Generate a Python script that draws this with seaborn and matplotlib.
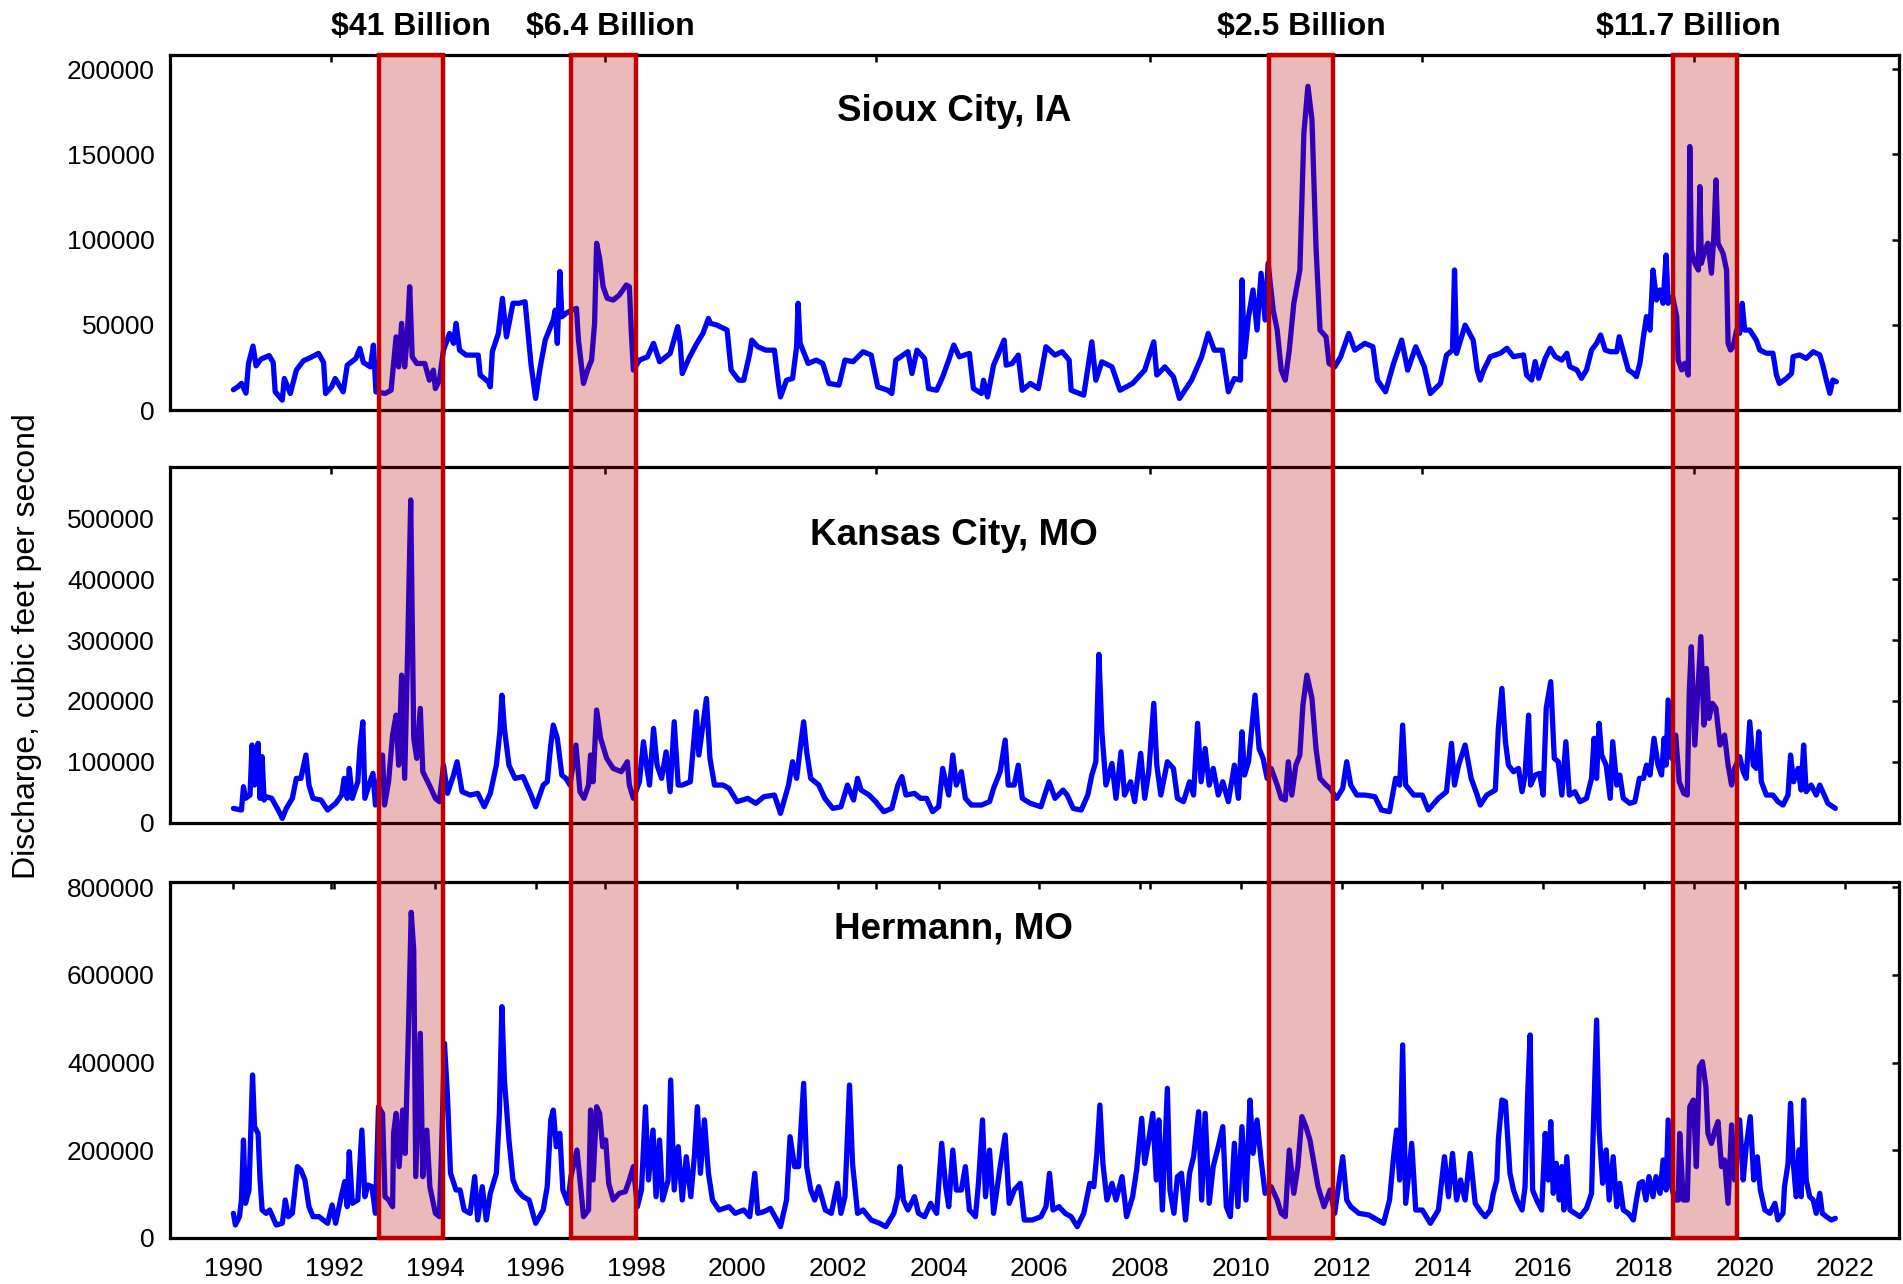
import matplotlib
matplotlib.use("Agg")
import matplotlib.pyplot as plt
import matplotlib.transforms as mtransforms
from matplotlib.patches import Rectangle
import seaborn as sns
import pandas as pd

# ---------------- data ----------------
sioux_year = [
    1990.00, 1990.10, 1990.16, 1990.25, 1990.30, 1990.39, 1990.45, 1990.55, 1990.71, 1990.79,
    1990.83, 1990.97, 1991.01, 1991.13, 1991.25, 1991.39, 1991.54, 1991.69, 1991.79, 1991.83,
    1991.95, 1992.02, 1992.18, 1992.26, 1992.43, 1992.51, 1992.58, 1992.72, 1992.78, 1992.83,
    1993.01, 1993.13, 1993.23, 1993.28, 1993.34, 1993.40, 1993.45, 1993.50, 1993.55, 1993.64,
    1993.80, 1993.89, 1993.97, 1994.01, 1994.09, 1994.17, 1994.29, 1994.37, 1994.42, 1994.49,
    1994.62, 1994.86, 1994.90, 1995.06, 1995.10, 1995.14, 1995.26, 1995.34, 1995.42, 1995.55,
    1995.67, 1995.79, 1995.87, 1995.91, 1996.00, 1996.08, 1996.19, 1996.27, 1996.35, 1996.39,
    1996.43, 1996.48, 1996.52, 1996.60, 1996.72, 1996.81, 1996.85, 1996.95, 1997.03, 1997.11,
    1997.17, 1997.21, 1997.27, 1997.34, 1997.42, 1997.54, 1997.66, 1997.80, 1997.86, 1997.90,
    1997.94, 1998.06, 1998.22, 1998.34, 1998.46, 1998.67, 1998.82, 1998.87, 1998.91, 1999.04,
    1999.20, 1999.32, 1999.43, 1999.47, 1999.60, 1999.80, 1999.88, 2000.03, 2000.13, 2000.25,
    2000.29, 2000.41, 2000.57, 2000.74, 2000.82, 2000.86, 2000.98, 2001.10, 2001.18, 2001.21,
    2001.25, 2001.41, 2001.57, 2001.70, 2001.82, 2002.02, 2002.14, 2002.30, 2002.50, 2002.66,
    2002.79, 2002.99, 2003.07, 2003.15, 2003.39, 2003.47, 2003.57, 2003.72, 2003.80, 2003.96,
    2004.08, 2004.20, 2004.30, 2004.41, 2004.61, 2004.69, 2004.85, 2004.89, 2004.97, 2005.09,
    2005.30, 2005.34, 2005.46, 2005.58, 2005.66, 2005.82, 2005.98, 2006.13, 2006.31, 2006.45,
    2006.59, 2006.63, 2006.88, 2007.04, 2007.12, 2007.24, 2007.44, 2007.60, 2007.85, 2008.09,
    2008.27, 2008.33, 2008.49, 2008.66, 2008.78, 2009.02, 2009.22, 2009.35, 2009.47, 2009.63,
    2009.75, 2009.87, 2009.99, 2010.02, 2010.07, 2010.15, 2010.24, 2010.32, 2010.40, 2010.48,
    2010.54, 2010.64, 2010.72, 2010.80, 2010.88, 2010.96, 2011.05, 2011.17, 2011.25, 2011.33,
    2011.41, 2011.49, 2011.57, 2011.69, 2011.75, 2011.86, 2011.98, 2012.14, 2012.26, 2012.46,
    2012.62, 2012.71, 2012.87, 2013.03, 2013.19, 2013.31, 2013.47, 2013.64, 2013.76, 2013.96,
    2014.08, 2014.20, 2014.24, 2014.28, 2014.45, 2014.61, 2014.69, 2014.75, 2014.82, 2014.95,
    2015.15, 2015.28, 2015.41, 2015.61, 2015.67, 2015.77, 2015.84, 2015.91, 2016.04, 2016.14,
    2016.24, 2016.37, 2016.47, 2016.53, 2016.67, 2016.76, 2016.86, 2016.96, 2017.06, 2017.14,
    2017.23, 2017.33, 2017.46, 2017.51, 2017.59, 2017.69, 2017.79, 2017.85, 2017.92, 2017.99,
    2018.05, 2018.12, 2018.18, 2018.25, 2018.32, 2018.38, 2018.44, 2018.48, 2018.57, 2018.65,
    2018.68, 2018.75, 2018.81, 2018.88, 2018.91, 2018.94, 2019.01, 2019.08, 2019.11, 2019.14,
    2019.21, 2019.27, 2019.34, 2019.39, 2019.43, 2019.47, 2019.57, 2019.64, 2019.67, 2019.72,
    2019.77, 2019.84, 2019.90, 2019.95, 2020.00, 2020.10, 2020.23, 2020.30, 2020.43, 2020.56,
    2020.63, 2020.69, 2020.83, 2020.93, 2020.96, 2021.09, 2021.22, 2021.36, 2021.49, 2021.55,
    2021.62, 2021.69, 2021.75, 2021.82]
sioux_cfs = [
    12000, 14000, 15700, 10000, 27400, 37600, 26000, 30000, 32000, 28000,
    10800, 5900, 18600, 9800, 23500, 29000, 31000, 33300, 28000, 9800,
    13700, 18600, 10800, 26400, 30300, 36200, 28000, 25400, 38200, 10800,
    9800, 11700, 43000, 25400, 50900, 25400, 43000, 72400, 31300, 27400,
    27400, 17600, 23500, 12700, 17600, 35200, 45000, 39200, 50900, 35200,
    32300, 32300, 20600, 16600, 13700, 34300, 45000, 65600, 43000, 62700,
    62700, 63600, 39200, 26400, 6900, 23500, 41100, 47000, 52900, 58700,
    39200, 81300, 54800, 56800, 58700, 59700, 41100, 15700, 23500, 29400,
    50900, 97900, 89100, 72400, 65600, 64600, 67500, 73400, 72400, 45000,
    23500, 29400, 31300, 39200, 28400, 33300, 49000, 39200, 21500, 30300,
    39200, 45000, 53800, 50900, 49900, 47000, 23500, 17600, 17600, 33300,
    41100, 37200, 35200, 35200, 15700, 7800, 17600, 18600, 37200, 62700,
    39200, 27400, 29400, 27400, 15700, 14700, 29400, 28400, 34300, 32300,
    13700, 11700, 9800, 29400, 34300, 21500, 35200, 30300, 12700, 11700,
    19600, 29400, 38200, 31300, 33300, 12700, 9800, 17600, 7800, 26400,
    41100, 26400, 27400, 32300, 11700, 15700, 12700, 37200, 32300, 34300,
    29400, 11700, 8800, 40100, 17600, 28400, 25400, 11700, 15700, 23500,
    40100, 20600, 25400, 19600, 6900, 17600, 31300, 45000, 35200, 35200,
    10800, 18600, 17600, 76400, 31300, 54800, 70500, 47000, 80300, 52900,
    86200, 58700, 47000, 23500, 17600, 35200, 62700, 82200, 162500, 189900,
    170300, 95900, 47000, 43000, 27400, 25400, 31300, 45000, 35200, 39200,
    37200, 17600, 10800, 27400, 41100, 23500, 37200, 25400, 9800, 15700,
    32300, 35200, 82200, 33300, 49900, 41100, 23500, 17700, 23600, 31400,
    33400, 36300, 31400, 32400, 20600, 17700, 28500, 18700, 30400, 36300,
    31400, 29400, 33400, 25500, 23600, 18700, 23600, 35300, 39200, 44100,
    35300, 34300, 34300, 43100, 34300, 23600, 21600, 19700, 27500, 43100,
    54900, 47000, 82200, 64600, 70500, 62700, 91000, 62700, 66600, 54900,
    29400, 23600, 27500, 20600, 154600, 94000, 86100, 82200, 131100, 86100,
    94000, 97900, 80300, 103700, 135000, 97900, 92000, 82200, 39200, 35300,
    37300, 47000, 45100, 62700, 47000, 47000, 41100, 35300, 33400, 33400,
    20600, 15700, 18700, 21600, 31400, 32400, 30400, 34300, 32400, 26500,
    17700, 9900, 17700, 16700]

kc_year = [
    1990.00, 1990.16, 1990.20, 1990.24, 1990.33, 1990.37, 1990.42, 1990.49, 1990.53, 1990.57,
    1990.61, 1990.65, 1990.76, 1990.89, 1990.97, 1991.05, 1991.17, 1991.25, 1991.34, 1991.44,
    1991.50, 1991.58, 1991.74, 1991.87, 1992.03, 1992.15, 1992.20, 1992.26, 1992.30, 1992.36,
    1992.47, 1992.51, 1992.57, 1992.61, 1992.71, 1992.77, 1992.82, 1992.96, 1993.00, 1993.08,
    1993.16, 1993.23, 1993.28, 1993.34, 1993.40, 1993.46, 1993.52, 1993.58, 1993.64, 1993.71,
    1993.76, 1993.89, 1994.01, 1994.09, 1994.17, 1994.25, 1994.37, 1994.44, 1994.54, 1994.70,
    1994.85, 1994.98, 1995.10, 1995.22, 1995.29, 1995.33, 1995.38, 1995.47, 1995.59, 1995.75,
    1995.91, 1996.00, 1996.15, 1996.23, 1996.30, 1996.35, 1996.43, 1996.52, 1996.60, 1996.68,
    1996.80, 1996.88, 1996.96, 1997.05, 1997.09, 1997.14, 1997.21, 1997.29, 1997.41, 1997.54,
    1997.70, 1997.82, 1997.86, 1997.94, 1998.06, 1998.14, 1998.20, 1998.26, 1998.34, 1998.41,
    1998.50, 1998.59, 1998.67, 1998.75, 1998.83, 1998.91, 1999.07, 1999.19, 1999.24, 1999.39,
    1999.46, 1999.55, 1999.72, 1999.84, 2000.00, 2000.21, 2000.37, 2000.53, 2000.74, 2000.86,
    2001.02, 2001.10, 2001.18, 2001.26, 2001.32, 2001.38, 2001.46, 2001.62, 2001.74, 2001.90,
    2002.06, 2002.19, 2002.31, 2002.39, 2002.46, 2002.62, 2002.75, 2002.91, 2003.07, 2003.19,
    2003.27, 2003.35, 2003.52, 2003.64, 2003.76, 2003.88, 2004.00, 2004.08, 2004.20, 2004.28,
    2004.35, 2004.45, 2004.53, 2004.65, 2004.85, 2005.01, 2005.09, 2005.22, 2005.32, 2005.38,
    2005.50, 2005.58, 2005.66, 2005.82, 2006.03, 2006.19, 2006.31, 2006.47, 2006.55, 2006.67,
    2006.83, 2006.96, 2007.04, 2007.12, 2007.18, 2007.24, 2007.32, 2007.44, 2007.52, 2007.62,
    2007.69, 2007.81, 2007.89, 2008.01, 2008.09, 2008.17, 2008.27, 2008.33, 2008.41, 2008.54,
    2008.66, 2008.74, 2008.86, 2008.98, 2009.06, 2009.14, 2009.21, 2009.29, 2009.37, 2009.45,
    2009.55, 2009.64, 2009.75, 2009.87, 2009.95, 2010.02, 2010.07, 2010.15, 2010.28, 2010.36,
    2010.44, 2010.52, 2010.60, 2010.72, 2010.80, 2010.88, 2010.94, 2011.01, 2011.09, 2011.17,
    2011.23, 2011.31, 2011.41, 2011.49, 2011.57, 2011.69, 2011.77, 2011.90, 2012.02, 2012.10,
    2012.18, 2012.30, 2012.46, 2012.66, 2012.79, 2012.95, 2013.07, 2013.15, 2013.21, 2013.27,
    2013.43, 2013.60, 2013.72, 2013.92, 2014.08, 2014.18, 2014.24, 2014.32, 2014.45, 2014.57,
    2014.69, 2014.75, 2014.88, 2015.05, 2015.11, 2015.18, 2015.25, 2015.31, 2015.41, 2015.51,
    2015.58, 2015.64, 2015.71, 2015.75, 2015.84, 2015.93, 2016.00, 2016.06, 2016.15, 2016.22,
    2016.30, 2016.37, 2016.45, 2016.52, 2016.63, 2016.73, 2016.86, 2016.96, 2017.01, 2017.06,
    2017.11, 2017.16, 2017.25, 2017.33, 2017.38, 2017.46, 2017.52, 2017.59, 2017.72, 2017.82,
    2017.91, 2017.99, 2018.05, 2018.12, 2018.20, 2018.28, 2018.35, 2018.40, 2018.44, 2018.48,
    2018.55, 2018.63, 2018.70, 2018.79, 2018.86, 2018.90, 2018.94, 2019.01, 2019.08, 2019.13,
    2019.19, 2019.24, 2019.29, 2019.36, 2019.43, 2019.51, 2019.60, 2019.67, 2019.74, 2019.80,
    2019.90, 2019.97, 2020.03, 2020.10, 2020.17, 2020.23, 2020.28, 2020.33, 2020.43, 2020.56,
    2020.66, 2020.76, 2020.86, 2020.91, 2020.97, 2021.06, 2021.12, 2021.17, 2021.22, 2021.32,
    2021.42, 2021.49, 2021.55, 2021.65, 2021.75, 2021.80]
kc_cfs = [
    23700, 21000, 59300, 40200, 45600, 127700, 62000, 130400, 40200, 108600,
    37400, 42900, 40200, 21000, 7300, 23700, 40200, 73000, 73000, 111300,
    62000, 40200, 37400, 21000, 32000, 45600, 73000, 40200, 89300, 40200,
    67400, 122100, 165900, 40200, 67400, 81100, 29200, 111300, 29200, 67400,
    144000, 176800, 94700, 242400, 73000, 286200, 529900, 138700, 105800, 187900,
    83900, 62000, 40200, 34700, 94700, 48400, 78400, 100300, 51100, 45600,
    48400, 26400, 48400, 94700, 149400, 209600, 154900, 94700, 73000, 75800,
    45600, 26400, 62000, 67400, 127700, 160400, 138700, 78400, 73000, 62000,
    127700, 51100, 40200, 62000, 111300, 67400, 185200, 138700, 105800, 89300,
    83900, 100300, 62000, 40200, 67400, 133100, 94700, 62000, 154900, 94700,
    73000, 116500, 51100, 165900, 62000, 62000, 67400, 182400, 111300, 204200,
    105800, 62000, 62000, 56500, 34700, 40200, 32000, 42900, 45600, 15600,
    62000, 100300, 73000, 127700, 165900, 116500, 73000, 62000, 40200, 23700,
    26400, 62000, 37400, 73000, 53800, 45600, 34700, 18300, 23700, 62000,
    75800, 45600, 48400, 40200, 40200, 18300, 26400, 89300, 45600, 111300,
    62000, 83900, 40200, 29200, 29200, 34700, 56500, 83900, 135900, 62000,
    62000, 94700, 40200, 32000, 26400, 67400, 40200, 53800, 45600, 23700,
    21000, 45600, 78400, 100300, 276500, 149400, 62000, 97500, 40200, 116500,
    45600, 67400, 34700, 114100, 40200, 83900, 196100, 94700, 45600, 100300,
    89300, 40200, 34700, 67400, 45600, 163300, 67400, 122100, 62000, 89300,
    45600, 67400, 34700, 94700, 40200, 149400, 78400, 100300, 209600, 122100,
    105800, 73000, 89300, 62000, 40200, 37400, 100300, 45600, 94700, 111300,
    193200, 242400, 204200, 122100, 73000, 62000, 56500, 40200, 56500, 100300,
    62000, 45600, 45600, 42900, 21000, 18300, 73000, 62000, 160400, 62000,
    45600, 45600, 21000, 40200, 51100, 130400, 62000, 94700, 127700, 73000,
    45600, 29200, 45600, 53800, 154900, 220600, 133100, 94700, 83900, 89300,
    51100, 78400, 176800, 62000, 78400, 81100, 45600, 187900, 231700, 105800,
    100300, 45600, 133100, 45600, 51100, 34700, 40200, 73000, 138700, 73000,
    163300, 111300, 94700, 40200, 133100, 62000, 78400, 40200, 32000, 34700,
    73000, 73000, 94700, 78400, 138700, 94700, 78400, 138700, 94700, 201600,
    105800, 144000, 67400, 48400, 45600, 215100, 289000, 127700, 231700, 305600,
    160400, 253500, 171400, 196100, 187900, 127700, 144000, 94700, 62000, 89300,
    108600, 83900, 73000, 165900, 94700, 89300, 149400, 67400, 45600, 45600,
    34700, 29200, 45600, 111300, 67400, 89300, 53800, 127700, 51100, 62000,
    45600, 62000, 51100, 32000, 26400, 23700]

hermann_year = [
    1990.00, 1990.04, 1990.12, 1990.16, 1990.20, 1990.24, 1990.31, 1990.38, 1990.42, 1990.49,
    1990.53, 1990.57, 1990.65, 1990.72, 1990.85, 1990.97, 1991.03, 1991.09, 1991.17, 1991.27,
    1991.34, 1991.42, 1991.50, 1991.58, 1991.70, 1991.87, 1991.96, 1992.03, 1992.14, 1992.21,
    1992.26, 1992.30, 1992.36, 1992.47, 1992.55, 1992.61, 1992.67, 1992.75, 1992.82, 1992.88,
    1992.96, 1993.01, 1993.08, 1993.16, 1993.18, 1993.23, 1993.29, 1993.36, 1993.41, 1993.48,
    1993.53, 1993.58, 1993.62, 1993.71, 1993.76, 1993.84, 1993.90, 1994.01, 1994.09, 1994.13,
    1994.19, 1994.25, 1994.31, 1994.42, 1994.50, 1994.58, 1994.70, 1994.79, 1994.85, 1994.94,
    1995.02, 1995.10, 1995.22, 1995.28, 1995.33, 1995.38, 1995.47, 1995.55, 1995.63, 1995.75,
    1995.87, 1996.00, 1996.15, 1996.23, 1996.30, 1996.35, 1996.41, 1996.48, 1996.54, 1996.64,
    1996.70, 1996.82, 1996.88, 1996.95, 1997.05, 1997.09, 1997.14, 1997.21, 1997.27, 1997.33,
    1997.39, 1997.45, 1997.54, 1997.66, 1997.78, 1997.86, 1997.94, 1998.02, 1998.10, 1998.18,
    1998.24, 1998.33, 1998.39, 1998.46, 1998.52, 1998.63, 1998.68, 1998.75, 1998.83, 1998.91,
    1998.99, 1999.08, 1999.15, 1999.21, 1999.27, 1999.35, 1999.43, 1999.51, 1999.64, 1999.84,
    1999.96, 2000.13, 2000.25, 2000.35, 2000.41, 2000.53, 2000.66, 2000.86, 2000.98, 2001.05,
    2001.14, 2001.22, 2001.32, 2001.38, 2001.46, 2001.54, 2001.62, 2001.75, 2001.87, 2001.99,
    2002.06, 2002.14, 2002.23, 2002.29, 2002.39, 2002.50, 2002.66, 2002.83, 2002.95, 2003.11,
    2003.19, 2003.23, 2003.30, 2003.39, 2003.52, 2003.60, 2003.72, 2003.84, 2003.96, 2004.06,
    2004.14, 2004.20, 2004.28, 2004.35, 2004.45, 2004.53, 2004.61, 2004.73, 2004.79, 2004.87,
    2004.93, 2005.01, 2005.09, 2005.22, 2005.32, 2005.40, 2005.50, 2005.62, 2005.70, 2005.86,
    2006.03, 2006.13, 2006.20, 2006.27, 2006.39, 2006.51, 2006.63, 2006.75, 2006.88, 2007.00,
    2007.08, 2007.14, 2007.20, 2007.26, 2007.34, 2007.44, 2007.52, 2007.64, 2007.73, 2007.85,
    2007.93, 2008.03, 2008.09, 2008.17, 2008.25, 2008.32, 2008.37, 2008.44, 2008.54, 2008.59,
    2008.67, 2008.74, 2008.82, 2008.90, 2008.98, 2009.06, 2009.16, 2009.22, 2009.29, 2009.37,
    2009.45, 2009.55, 2009.64, 2009.71, 2009.79, 2009.87, 2009.94, 2010.02, 2010.10, 2010.18,
    2010.24, 2010.32, 2010.40, 2010.48, 2010.60, 2010.72, 2010.80, 2010.88, 2010.96, 2011.05,
    2011.13, 2011.21, 2011.29, 2011.37, 2011.45, 2011.53, 2011.65, 2011.77, 2011.86, 2012.02,
    2012.10, 2012.18, 2012.34, 2012.54, 2012.71, 2012.83, 2012.95, 2013.03, 2013.09, 2013.15,
    2013.21, 2013.27, 2013.39, 2013.47, 2013.60, 2013.76, 2013.92, 2014.04, 2014.12, 2014.20,
    2014.28, 2014.36, 2014.45, 2014.55, 2014.65, 2014.76, 2014.85, 2014.95, 2015.01, 2015.08,
    2015.11, 2015.18, 2015.25, 2015.29, 2015.34, 2015.41, 2015.48, 2015.58, 2015.64, 2015.69,
    2015.74, 2015.79, 2015.87, 2015.97, 2016.04, 2016.10, 2016.15, 2016.20, 2016.26, 2016.32,
    2016.37, 2016.41, 2016.47, 2016.53, 2016.63, 2016.73, 2016.86, 2016.96, 2016.99, 2017.06,
    2017.11, 2017.18, 2017.25, 2017.31, 2017.39, 2017.46, 2017.52, 2017.59, 2017.69, 2017.79,
    2017.85, 2017.91, 2017.97, 2018.04, 2018.10, 2018.18, 2018.24, 2018.32, 2018.38, 2018.44,
    2018.48, 2018.55, 2018.61, 2018.68, 2018.71, 2018.78, 2018.86, 2018.91, 2018.98, 2019.04,
    2019.10, 2019.16, 2019.23, 2019.27, 2019.34, 2019.41, 2019.47, 2019.54, 2019.60, 2019.67,
    2019.74, 2019.80, 2019.90, 2019.97, 2020.03, 2020.11, 2020.18, 2020.25, 2020.31, 2020.40,
    2020.50, 2020.60, 2020.66, 2020.76, 2020.79, 2020.86, 2020.91, 2020.96, 2021.02, 2021.08,
    2021.12, 2021.17, 2021.22, 2021.29, 2021.36, 2021.42, 2021.49, 2021.54, 2021.62, 2021.72,
    2021.80]
hermann_cfs = [
    56000, 29400, 48400, 86400, 223200, 78800, 109200, 371500, 253700, 238500,
    132100, 63600, 56000, 63600, 29400, 33200, 86400, 48400, 56000, 162500,
    154900, 132100, 71200, 48400, 48400, 33200, 75000, 33200, 94000, 128300,
    71200, 196500, 78800, 86400, 245900, 94000, 120600, 116800, 56000, 299100,
    283900, 94000, 86400, 71200, 238500, 283900, 162500, 291500, 192700, 497000,
    742400, 656600, 139700, 466400, 139700, 245900, 116800, 56000, 48400, 192700,
    443600, 321900, 147300, 109200, 109200, 63600, 56000, 139700, 40800, 116800,
    40800, 101600, 147300, 283900, 527400, 360000, 223200, 132100, 109200, 94000,
    86400, 33200, 63600, 116800, 269100, 291500, 208000, 238500, 109200, 78800,
    139700, 200300, 132100, 48400, 63600, 291500, 132100, 299100, 283900, 208000,
    223200, 124400, 86400, 101600, 105400, 132100, 162500, 71200, 109200, 299100,
    132100, 245900, 94000, 223200, 86400, 132100, 360000, 109200, 208000, 86400,
    185100, 94000, 185100, 299100, 147300, 269100, 147300, 86400, 63600, 71200,
    56000, 63600, 48400, 147300, 56000, 59700, 67300, 25600, 86400, 230800,
    162500, 162500, 352400, 162500, 109200, 86400, 116800, 63600, 56000, 124400,
    56000, 94000, 348600, 170000, 56000, 63600, 40800, 33200, 25600, 56000,
    94000, 162500, 86400, 63600, 94000, 56000, 48400, 78800, 56000, 215700,
    116800, 71200, 200300, 109200, 109200, 162500, 63600, 48400, 124400, 268900,
    94000, 200300, 56000, 162500, 234600, 78800, 109200, 124400, 40800, 40800,
    48400, 71200, 147300, 63600, 71200, 56000, 48400, 25600, 56000, 124400,
    116800, 192700, 302900, 170000, 86400, 124400, 86400, 139700, 48400, 94000,
    154900, 272700, 170000, 223200, 283900, 132100, 268900, 63600, 341000, 109200,
    56000, 139700, 147300, 40800, 147300, 185100, 287700, 86400, 283900, 78800,
    162500, 208000, 253700, 71200, 48400, 215700, 71200, 253700, 86400, 314400,
    192700, 268900, 177700, 101600, 116800, 86400, 56000, 48400, 200300, 101600,
    162500, 276500, 253700, 223200, 170000, 116800, 71200, 109200, 56000, 185100,
    86400, 71200, 56000, 52200, 40800, 33200, 86400, 185100, 245900, 132100,
    440000, 78800, 215700, 63600, 63600, 33200, 63600, 185100, 94000, 192700,
    86400, 132100, 86400, 192700, 78800, 60000, 48400, 63600, 101600, 132100,
    223200, 314400, 310600, 238300, 147300, 109200, 86400, 63600, 116800, 321900,
    462700, 109200, 86400, 63600, 238300, 132100, 265100, 101600, 170000, 86400,
    162500, 63600, 185100, 63600, 56000, 48400, 67400, 101600, 230700, 496900,
    245900, 124400, 200600, 86400, 185100, 71200, 124400, 63600, 56000, 40800,
    86400, 124400, 128300, 86400, 139700, 94000, 139700, 101600, 177700, 109200,
    268900, 116800, 86400, 86400, 238300, 86400, 86400, 299100, 314400, 162500,
    390400, 401800, 344900, 238300, 215500, 245900, 265100, 162500, 177700, 78800,
    257500, 132100, 268900, 132100, 208000, 276500, 132100, 185100, 109200, 63600,
    56000, 78800, 40800, 56000, 116800, 170000, 306800, 177700, 94000, 200600,
    94000, 314400, 132100, 94000, 86400, 56000, 101600, 56000, 48400, 40800,
    44600]

station_names = ["Sioux City, IA", "Kansas City, MO", "Hermann, MO"]
station_yticks = [
    [0, 50000, 100000, 150000, 200000],
    [0, 100000, 200000, 300000, 400000, 500000],
    [0, 200000, 400000, 600000, 800000],
]
station_ymax = [208500, 583700, 811000]

flood_start = [1992.89, 1996.71, 2010.55, 2018.57]
flood_end = [1994.16, 1997.99, 2011.83, 2019.84]
flood_labels = ["$41 Billion", "$6.4 Billion", "$2.5 Billion", "$11.7 Billion"]
flood_label_x = [1993.53, 1997.48, 2011.19, 2018.88]

year_ticks = list(range(1990, 2023, 2))
day2000_ticks = [1991.93, 1997.38, 2002.75, 2008.20, 2013.60, 2019.00]

# ---------------- figure ----------------
sns.set_style("white")
plt.rcParams['font.family'] = ['Liberation Sans', 'DejaVu Sans']
plt.rcParams['text.color'] = 'black'
plt.rcParams['axes.labelcolor'] = 'black'
plt.rcParams['xtick.color'] = 'black'
plt.rcParams['ytick.color'] = 'black'

W_PX, H_PX = 1903, 1284
fig = plt.figure(figsize=(W_PX / 100, H_PX / 100), dpi=100)

left = 140 / 1568
width = 1425 / 1568
panel_h = 293 / 1058
bottoms = [1 - 338 / 1058, 1 - 678 / 1058, 1 - 1020 / 1058]
title_y = [0.84, 0.809, 0.869]

series = [(sioux_year, sioux_cfs), (kc_year, kc_cfs), (hermann_year, hermann_cfs)]
axes = []
for i, (yrs, cfs) in enumerate(series):
    ax = fig.add_axes([left, bottoms[i], width, panel_h])
    df = pd.DataFrame({"year": yrs, "cfs": cfs})
    sns.lineplot(data=df, x="year", y="cfs", ax=ax, color="#0000ff",
                 linewidth=3.8, estimator=None, errorbar=None)
    ax.set_xlim(1988.74, 2023.07)
    ax.set_ylim(0, station_ymax[i])
    ax.set_yticks(station_yticks[i])
    ax.set_yticklabels([str(v) for v in station_yticks[i]])
    ax.set_xlabel("")
    ax.set_ylabel("")
    for s in ax.spines.values():
        s.set_visible(True)
        s.set_color("black")
        s.set_linewidth(2.3)
    ax.tick_params(axis="both", which="both", direction="in", length=5, width=1.8,
                   top=True, right=True, colors="black", labelcolor="black",
                   labelsize=19, pad=11)
    ax.text(0.4533, title_y[i], station_names[i], transform=ax.transAxes,
            ha="center", va="center", fontsize=26.5, fontweight="bold", color="black")
    if i < 2:
        ax.set_xticks(day2000_ticks)
        ax.set_xticklabels([])
    else:
        ax.set_xticks(year_ticks)
        ax.set_xticklabels([str(y) for y in year_ticks])
        ax.set_xticks(day2000_ticks, minor=True)
        ax.tick_params(axis="x", which="minor", length=5, width=1.8)
        ax.tick_params(axis="x", which="major", pad=14)
    axes.append(ax)

# flood windows spanning all three panels
y0 = bottoms[2]
y1 = bottoms[0] + panel_h
trans = mtransforms.blended_transform_factory(axes[2].transData, fig.transFigure)
for xs, xe, lab, lx in zip(flood_start, flood_end, flood_labels, flood_label_x):
    fill = Rectangle((xs, y0), xe - xs, y1 - y0, transform=trans,
                     facecolor="#b40000", alpha=0.275, edgecolor="none", zorder=10)
    edge = Rectangle((xs, y0), xe - xs, y1 - y0, transform=trans,
                     fill=False, edgecolor="#c00000", linewidth=3.2, zorder=11)
    fig.add_artist(fill)
    fig.add_artist(edge)
    fig.text(lx, 1 - 22 / 1058, lab, transform=trans, ha="center", va="center",
             fontsize=23, fontweight="bold", color="black")

fig.text(22 / 1568, 1 - 532 / 1058, "Discharge, cubic feet per second", rotation=90,
         ha="center", va="center", fontsize=23, color="black")

fig.savefig("out.png", dpi=100)
